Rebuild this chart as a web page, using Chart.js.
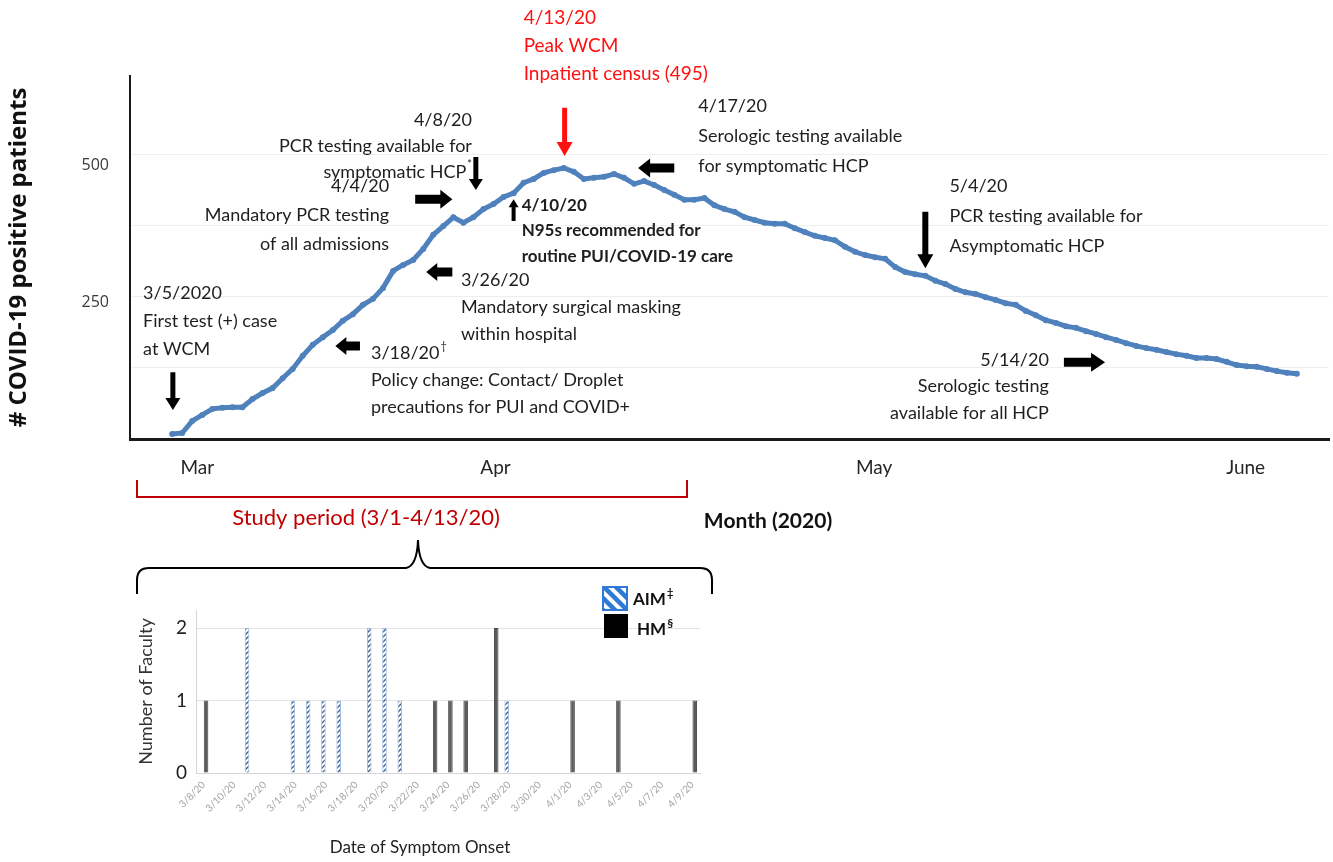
<!DOCTYPE html>
<html>
<head>
<meta charset="utf-8">
<title>WCM COVID-19 census and faculty symptom onset</title>
<script src="https://cdn.jsdelivr.net/npm/chart.js@4.4.0/dist/chart.umd.min.js"></script>
<style>
  html, body { margin: 0; padding: 0; background: #fff; }
  body { width: 1333px; height: 862px; position: relative; overflow: hidden; }
  canvas { position: absolute; }
  #facultyChart { left: 100px; top: 575px; }
  #censusChart { left: 0; top: 0; }
</style>
</head>
<body>
<canvas id="facultyChart" width="640" height="287"></canvas>
<canvas id="censusChart" width="1333" height="600"></canvas>
<script>
// ---- census (top) : days counted from 3/1/2020, first value is 3/5/2020
const censusFirstDay = 4
const censusValues = [
  9, 11, 33, 44, 55, 57, 58, 58, 73, 84,
  93, 111, 128, 152, 172, 186, 199, 216, 228, 245,
  256, 276, 307, 318, 327, 347, 373, 389, 405, 395,
  405, 420, 429, 442, 449, 468, 475, 486, 491, 495,
  488, 475, 477, 479, 484, 477, 466, 471, 464, 455,
  446, 437, 437, 440, 427, 420, 415, 405, 400, 395,
  393, 393, 385, 378, 371, 367, 363, 351, 342, 336,
  332, 329, 314, 305, 301, 298, 289, 283, 274, 268,
  265, 259, 254, 248, 245, 234, 226, 217, 212, 206,
  203, 197, 192, 186, 181, 175, 170, 166, 163, 159,
  155, 152, 148, 148, 146, 141, 135, 133, 132, 128,
  124, 121, 119
]
const monthLabels = ['Mar', 'Apr', 'May', 'June']
const monthTickDays = [6.5, 36.2, 73.9, 110.9]
const yTickLabels = [250, 500]
const yGridValues = [130, 260, 390, 520]

// ---- faculty symptom onset (bottom)
const onsetDates = ['3/8/20', '3/9/20', '3/10/20', '3/11/20', '3/12/20', '3/13/20', '3/14/20', '3/15/20',
  '3/16/20', '3/17/20', '3/18/20', '3/19/20', '3/20/20', '3/21/20', '3/22/20', '3/23/20', '3/24/20',
  '3/25/20', '3/26/20', '3/27/20', '3/28/20', '3/29/20', '3/30/20', '3/31/20', '4/1/20', '4/2/20',
  '4/3/20', '4/4/20', '4/5/20', '4/6/20', '4/7/20', '4/8/20', '4/9/20']
const aimCounts = [0, 0, 0, 2, 0, 0, 1, 1, 1, 1, 0, 2, 2, 1, 0, 0, 0, 0, 0, 0, 1, 0, 0, 0, 0, 0, 0, 0, 0, 0, 0, 0, 0]
const hmCounts  = [1, 0, 0, 0, 0, 0, 0, 0, 0, 0, 0, 0, 0, 0, 0, 1, 1, 1, 0, 2, 0, 0, 0, 0, 1, 0, 0, 1, 0, 0, 0, 0, 1]

// text notes on the census chart (anchored in day / patient units)
const notes = [
  { day: 1.1, val: 267, align: 'left', gap: 28, lines: ['3/5/2020', 'First test (+) case', 'at WCM'] },
  { day: 23.8, val: 157, align: 'left', gap: 27, lines: ['3/18/20^†', 'Policy change: Contact/ Droplet', 'precautions for PUI and COVID+'] },
  { day: 32.75, val: 290, align: 'left', gap: 27, lines: ['3/26/20', 'Mandatory surgical masking', 'within hospital'] },
  { day: 25.6, val: 462, align: 'right', gap: 29, lines: ['4/4/20', 'Mandatory PCR testing', 'of all admissions'] },
  { day: 33.85, val: 583, align: 'right', gap: 26, lines: ['4/8/20', 'PCR testing available for', 'symptomatic HCP^*'] },
  { day: 38.8, val: 427, align: 'left', gap: 25.5, bold: true, size: 17, lines: ['4/10/20', 'N95s recommended for', 'routine PUI/COVID-19 care'] },
  { day: 39.0, val: 769, align: 'left', gap: 28, color: '#ff1010', size: 19, lines: ['4/13/20', 'Peak WCM', 'Inpatient census (495)'] },
  { day: 56.4, val: 608, align: 'left', gap: 30, lines: ['4/17/20', 'Serologic testing available', 'for symptomatic HCP'] },
  { day: 81.4, val: 462, align: 'left', gap: 30, lines: ['5/4/20', 'PCR testing available for', 'Asymptomatic HCP'] },
  { day: 91.3, val: 144, align: 'right', gap: 26.5, lines: ['5/14/20', 'Serologic testing', 'available for all HCP'] }
]
const arrows = [
  { from: [4.07, 122], to: [4.07, 53], shaft: 5, head: 15, headLen: 12 },
  { from: [22.7, 170], to: [20.25, 170], shaft: 9, head: 18, headLen: 11 },
  { from: [31.9, 305], to: [29.3, 305], shaft: 9, head: 18, headLen: 11 },
  { from: [28.2, 438], to: [31.9, 438], shaft: 9, head: 19, headLen: 12 },
  { from: [34.24, 515], to: [34.24, 455], shaft: 5, head: 14, headLen: 11 },
  { from: [38.0, 398], to: [38.0, 438], shaft: 4, head: 10, headLen: 8 },
  { from: [43.08, 605], to: [43.08, 517], shaft: 5, head: 16, headLen: 14, color: '#ff1010' },
  { from: [54.0, 495], to: [50.4, 495], shaft: 9, head: 19, headLen: 12 },
  { from: [79.0, 415], to: [79.0, 312], shaft: 6, head: 16, headLen: 14 },
  { from: [92.8, 140], to: [96.9, 140], shaft: 9, head: 19, headLen: 14 }
]

function blockArrow(ctx, x1, y1, x2, y2, shaft, head, headLen, color) {
  const ang = Math.atan2(y2 - y1, x2 - x1)
  const len = Math.hypot(x2 - x1, y2 - y1)
  ctx.save()
  ctx.translate(x1, y1)
  ctx.rotate(ang)
  ctx.fillStyle = color
  ctx.beginPath()
  ctx.moveTo(0, -shaft / 2)
  ctx.lineTo(len - headLen, -shaft / 2)
  ctx.lineTo(len - headLen, -head / 2)
  ctx.lineTo(len, 0)
  ctx.lineTo(len - headLen, head / 2)
  ctx.lineTo(len - headLen, shaft / 2)
  ctx.lineTo(0, shaft / 2)
  ctx.closePath()
  ctx.fill()
  ctx.restore()
}

// text line with optional superscript after '^'
function drawLine(ctx, text, x, y, align, font, supFont) {
  const parts = text.split('^')
  ctx.font = font
  const w1 = ctx.measureText(parts[0]).width
  let w2 = 0
  if (parts[1]) { ctx.font = supFont; w2 = ctx.measureText(parts[1]).width + 1 }
  let x0 = x
  if (align === 'right') x0 = x - w1 - w2
  if (align === 'center') x0 = x - (w1 + w2) / 2
  ctx.textAlign = 'left'
  ctx.textBaseline = 'middle'
  ctx.font = font
  ctx.fillText(parts[0], x0, y)
  if (parts[1]) { ctx.font = supFont; ctx.fillText(parts[1], x0 + w1 + 1, y - 7) }
}

const censusNotes = {
  id: 'censusNotes',
  afterDraw(chart) {
    const ctx = chart.ctx
    const xs = chart.scales.x, ys = chart.scales.y
    ctx.save()
    notes.forEach(n => {
      const size = n.size || 18
      const font = (n.bold ? 'bold ' : '') + size + 'px Lato'
      const supFont = '11px Lato'
      ctx.fillStyle = n.color || '#1e1e1e'
      const x = xs.getPixelForValue(n.day)
      const y = ys.getPixelForValue(n.val)
      n.lines.forEach((t, i) => drawLine(ctx, t, x, y + i * n.gap, n.align, font, supFont))
    })
    arrows.forEach(a => {
      blockArrow(ctx, xs.getPixelForValue(a.from[0]), ys.getPixelForValue(a.from[1]),
        xs.getPixelForValue(a.to[0]), ys.getPixelForValue(a.to[1]), a.shaft, a.head, a.headLen, a.color || '#000')
    })

    // x axis title, sits right of centre in the original
    ctx.fillStyle = '#111'
    drawLine(ctx, 'Month (2020)', 768, 521, 'center', 'bold 21px Lato', '')

    // study period bracket
    ctx.strokeStyle = '#c00000'
    ctx.lineWidth = 2
    ctx.beginPath()
    ctx.moveTo(137, 480); ctx.lineTo(137, 497); ctx.lineTo(687, 497); ctx.lineTo(687, 480)
    ctx.stroke()
    ctx.fillStyle = '#c00000'
    drawLine(ctx, 'Study period (3/1-4/13/20)', 366, 518, 'center', '22px Lato', '')

    // curly brace down to the faculty chart
    ctx.strokeStyle = '#000'
    ctx.lineWidth = 2
    ctx.beginPath()
    ctx.moveTo(137, 594); ctx.lineTo(137, 580)
    ctx.quadraticCurveTo(137, 568, 149, 568)
    ctx.lineTo(406, 568)
    ctx.quadraticCurveTo(417, 566, 418, 540)
    ctx.quadraticCurveTo(419, 566, 430, 568)
    ctx.lineTo(700, 568)
    ctx.quadraticCurveTo(712, 568, 712, 580)
    ctx.lineTo(712, 594)
    ctx.stroke()
    ctx.restore()
  }
}

new Chart(document.getElementById('censusChart'), {
  type: 'line',
  data: {
    datasets: [{
      data: censusValues.map((v, i) => ({ x: censusFirstDay + i, y: v })),
      borderColor: '#4f81bd',
      backgroundColor: '#4f81bd',
      borderWidth: 5,
      pointRadius: 3,
      pointBorderWidth: 0,
      tension: 0
    }]
  },
  options: {
    responsive: false,
    animation: false,
    layout: { padding: { top: 76, bottom: 60, left: 0, right: 0 } },
    plugins: { legend: { display: false }, tooltip: { enabled: false } },
    scales: {
      x: {
        type: 'linear',
        min: -0.2,
        max: 119.2,
        afterBuildTicks: s => { s.ticks = monthTickDays.map(d => ({ value: d })) },
        afterFit: s => { s.height = 101 },
        grid: { display: false, drawTicks: false },
        border: { color: '#1a1a1a', width: 3 },
        ticks: {
          padding: 17,
          color: '#262626',
          font: { family: 'Lato', size: 19 },
          callback: (v, i) => monthLabels[i]
        }
      },
      y: {
        min: 0,
        max: 663,
        afterBuildTicks: s => {
          s.ticks = [...yGridValues, ...yTickLabels].sort((a, b) => a - b).map(v => ({ value: v }))
        },
        afterFit: s => { s.width = 130 },
        grid: {
          drawTicks: false,
          color: c => (c.tick && yGridValues.includes(c.tick.value)) ? '#eeeeee' : 'rgba(0,0,0,0)'
        },
        border: { color: '#1a1a1a', width: 2 },
        ticks: {
          padding: 21,
          color: '#3a3a3a',
          font: { family: 'Open Sans', size: 16 },
          callback: v => yTickLabels.includes(v) ? String(v) : ''
        },
        title: {
          display: true,
          text: '# COVID-19 positive patients',
          color: '#111',
          font: { family: 'Open Sans', size: 24, weight: 'bold' },
          padding: { top: 5 }
        }
      }
    }
  },
  plugins: [censusNotes]
})

// hatch tiles
function hatchTile(size, bg, stroke, lw, dir) {
  const c = document.createElement('canvas')
  c.width = c.height = size
  const g = c.getContext('2d')
  g.fillStyle = bg
  g.fillRect(0, 0, size, size)
  g.strokeStyle = stroke
  g.lineWidth = lw
  g.beginPath()
  if (dir === '/') {
    g.moveTo(-1, size + 1); g.lineTo(size + 1, -1)
    g.moveTo(-2, 2); g.lineTo(2, -2)
    g.moveTo(size - 2, size + 2); g.lineTo(size + 2, size - 2)
  } else {
    g.moveTo(-1, -1); g.lineTo(size + 1, size + 1)
    g.moveTo(size - 2, -2); g.lineTo(size + 2, 2)
    g.moveTo(-2, size - 2); g.lineTo(2, size + 2)
  }
  g.stroke()
  return c
}
const fctx = document.getElementById('facultyChart').getContext('2d')
const aimFill = fctx.createPattern(hatchTile(5, '#ffffff', '#3b5c90', 1.4, '/'), 'repeat')
const aimLegendFill = fctx.createPattern(hatchTile(12, '#ffffff', '#2f7ad6', 4.5, '\\'), 'repeat')

const facultyLegend = {
  id: 'facultyLegend',
  afterDraw(chart) {
    const ctx = chart.ctx
    const { right, top } = chart.chartArea
    const bx = right - 97
    ctx.save()
    ctx.fillStyle = aimLegendFill
    ctx.fillRect(bx, top - 23, 24, 23)
    ctx.strokeStyle = '#2f7ad6'
    ctx.lineWidth = 2
    ctx.strokeRect(bx, top - 23, 24, 23)
    ctx.fillStyle = '#000'
    ctx.fillRect(bx + 1, top + 4, 24, 24)
    ctx.fillStyle = '#111'
    drawLine(ctx, 'AIM^‡', bx + 30, top - 10, 'left', 'bold 17px Lato', 'bold 11px Lato')
    drawLine(ctx, 'HM^§', bx + 34, top + 20, 'left', 'bold 17px Lato', 'bold 12px Lato')
    // x axis title, a little left of the plot centre in the original
    ctx.fillStyle = '#222'
    drawLine(ctx, 'Date of Symptom Onset', 320, 273, 'center', '17px Lato', '')
    ctx.restore()
  }
}

new Chart(fctx, {
  type: 'bar',
  data: {
    labels: onsetDates,
    datasets: [
      { label: 'AIM‡', data: aimCounts, backgroundColor: aimFill, borderColor: '#9bb7de', borderWidth: 1,
        categoryPercentage: 0.63, barPercentage: 0.95 },
      { label: 'HM§', data: hmCounts, backgroundColor: '#5a5a5a', borderColor: '#4a4a4a', borderWidth: 1,
        categoryPercentage: 0.63, barPercentage: 0.95 }
    ]
  },
  options: {
    responsive: false,
    animation: false,
    layout: { padding: { top: 35, right: 40, left: 0, bottom: 0 } },
    plugins: { legend: { display: false }, tooltip: { enabled: false } },
    scales: {
      x: {
        afterFit: s => { s.height = 89 },
        grid: { display: false, drawTicks: false },
        border: { color: '#d6d6d6', width: 1 },
        ticks: {
          autoSkip: false,
          minRotation: 45,
          maxRotation: 45,
          padding: 6,
          color: '#a3a3a3',
          font: { family: 'Lato', size: 10 },
          callback: (v, i) => i % 2 === 0 ? onsetDates[i] : ''
        }
      },
      y: {
        min: 0,
        max: 2.25,
        afterFit: s => { s.width = 96 },
        grid: { drawTicks: false, color: '#e4e4e4' },
        border: { color: '#d6d6d6', width: 1 },
        ticks: {
          stepSize: 1,
          includeBounds: false,
          padding: 9,
          color: '#222',
          font: { family: 'Lato', size: 19 }
        },
        title: {
          display: true,
          text: 'Number of Faculty',
          color: '#333',
          font: { family: 'Lato', size: 18 },
          padding: { top: 35 }
        }
      }
    }
  },
  plugins: [facultyLegend]
})
</script>
</body>
</html>
